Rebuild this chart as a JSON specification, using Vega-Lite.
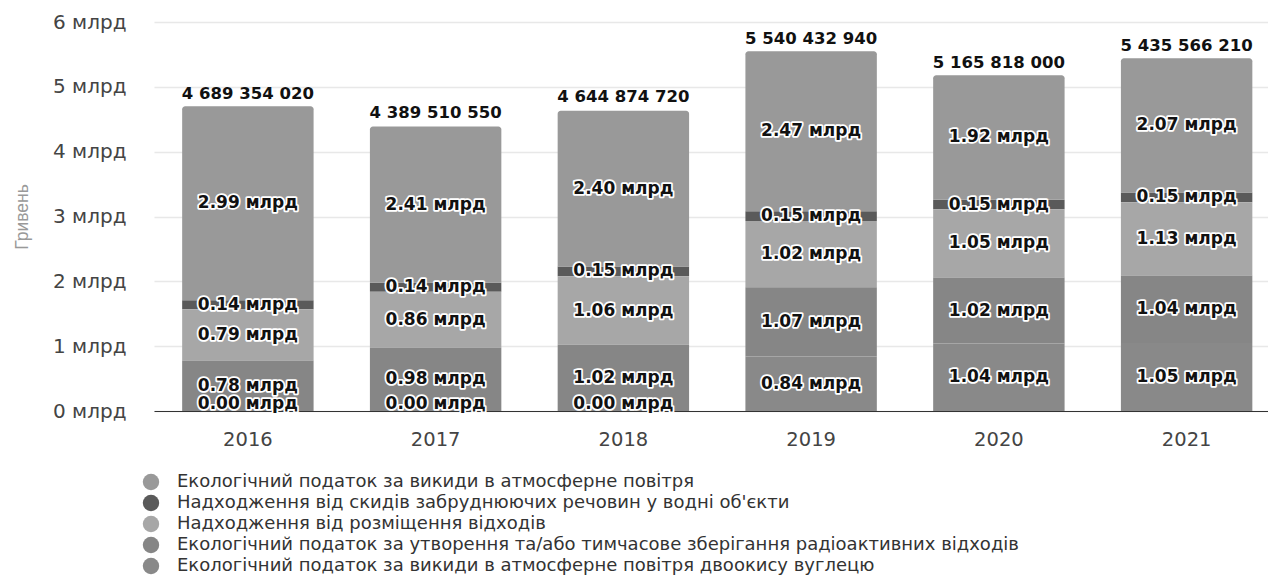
{
  "$schema": "https://vega.github.io/schema/vega-lite/v6.json",
  "width": 1114,
  "height": 389,
  "autosize": "none",
  "padding": {"left": 154, "top": 22, "right": 0, "bottom": 174},
  "background": "white",
  "config": {
    "view": {"stroke": null},
    "font": "DejaVu Sans"
  },
  "datasets": {
    "segments": [
      {"year": "2016", "series": "Екологічний податок за викиди в атмосферне повітря", "value": 2990000000},
      {"year": "2016", "series": "Надходження від скидів забруднюючих речовин у водні об'єкти", "value": 140000000},
      {"year": "2016", "series": "Надходження від розміщення відходів", "value": 790000000},
      {"year": "2016", "series": "Екологічний податок за утворення та/або тимчасове зберігання радіоактивних відходів", "value": 780000000},
      {"year": "2016", "series": "Екологічний податок за викиди в атмосферне повітря двоокису вуглецю", "value": 0},
      {"year": "2017", "series": "Екологічний податок за викиди в атмосферне повітря", "value": 2410000000},
      {"year": "2017", "series": "Надходження від скидів забруднюючих речовин у водні об'єкти", "value": 140000000},
      {"year": "2017", "series": "Надходження від розміщення відходів", "value": 860000000},
      {"year": "2017", "series": "Екологічний податок за утворення та/або тимчасове зберігання радіоактивних відходів", "value": 980000000},
      {"year": "2017", "series": "Екологічний податок за викиди в атмосферне повітря двоокису вуглецю", "value": 0},
      {"year": "2018", "series": "Екологічний податок за викиди в атмосферне повітря", "value": 2400000000},
      {"year": "2018", "series": "Надходження від скидів забруднюючих речовин у водні об'єкти", "value": 150000000},
      {"year": "2018", "series": "Надходження від розміщення відходів", "value": 1060000000},
      {"year": "2018", "series": "Екологічний податок за утворення та/або тимчасове зберігання радіоактивних відходів", "value": 1020000000},
      {"year": "2018", "series": "Екологічний податок за викиди в атмосферне повітря двоокису вуглецю", "value": 0},
      {"year": "2019", "series": "Екологічний податок за викиди в атмосферне повітря", "value": 2470000000},
      {"year": "2019", "series": "Надходження від скидів забруднюючих речовин у водні об'єкти", "value": 150000000},
      {"year": "2019", "series": "Надходження від розміщення відходів", "value": 1020000000},
      {"year": "2019", "series": "Екологічний податок за утворення та/або тимчасове зберігання радіоактивних відходів", "value": 1070000000},
      {"year": "2019", "series": "Екологічний податок за викиди в атмосферне повітря двоокису вуглецю", "value": 840000000},
      {"year": "2020", "series": "Екологічний податок за викиди в атмосферне повітря", "value": 1920000000},
      {"year": "2020", "series": "Надходження від скидів забруднюючих речовин у водні об'єкти", "value": 150000000},
      {"year": "2020", "series": "Надходження від розміщення відходів", "value": 1050000000},
      {"year": "2020", "series": "Екологічний податок за утворення та/або тимчасове зберігання радіоактивних відходів", "value": 1020000000},
      {"year": "2020", "series": "Екологічний податок за викиди в атмосферне повітря двоокису вуглецю", "value": 1040000000},
      {"year": "2021", "series": "Екологічний податок за викиди в атмосферне повітря", "value": 2070000000},
      {"year": "2021", "series": "Надходження від скидів забруднюючих речовин у водні об'єкти", "value": 150000000},
      {"year": "2021", "series": "Надходження від розміщення відходів", "value": 1130000000},
      {"year": "2021", "series": "Екологічний податок за утворення та/або тимчасове зберігання радіоактивних відходів", "value": 1040000000},
      {"year": "2021", "series": "Екологічний податок за викиди в атмосферне повітря двоокису вуглецю", "value": 1050000000}
    ],
    "totals": [
      {"year": "2016", "total": 4689354020},
      {"year": "2017", "total": 4389510550},
      {"year": "2018", "total": 4644874720},
      {"year": "2019", "total": 5540432940},
      {"year": "2020", "total": 5165818000},
      {"year": "2021", "total": 5435566210}
    ]
  },
  "encoding": {
    "x": {
      "field": "year",
      "type": "nominal",
      "scale": {"range": [0, 1126.5], "paddingInner": 0.3, "paddingOuter": 0.15},
      "axis": {
        "title": null,
        "labelAngle": 0,
        "labelFont": "DejaVu Sans",
        "labelFontSize": 19.5,
        "labelColor": "#444444",
        "labelBaseline": "middle",
        "labelPadding": 28,
        "ticks": false,
        "tickSize": 0,
        "domainColor": "#333333",
        "domainWidth": 1.2,
        "grid": false
      }
    }
  },
  "layer": [
    {
      "data": {"name": "segments"},
      "transform": [
        {"calculate": "4 - indexof([\"Екологічний податок за викиди в атмосферне повітря\", \"Надходження від скидів забруднюючих речовин у водні об'єкти\", \"Надходження від розміщення відходів\", \"Екологічний податок за утворення та/або тимчасове зберігання радіоактивних відходів\", \"Екологічний податок за викиди в атмосферне повітря двоокису вуглецю\"], datum.series)", "as": "rank"},
        {"stack": "value", "groupby": ["year"], "sort": [{"field": "rank", "order": "ascending"}], "as": ["v0", "v1"]},
        {"calculate": "max((datum.v0 + datum.v1) / 2, 110000000)", "as": "mid"},
        {"calculate": "format(datum.value / 1e9, '.2f') + ' млрд'", "as": "lbl"}
      ],
      "layer": [
        {
          "transform": [{"filter": "datum.rank < 4"}],
          "mark": {"type": "bar"},
          "encoding": {
            "y": {
              "field": "v1",
              "type": "quantitative",
              "scale": {"domain": [0, 6000000000], "nice": false},
              "axis": {
                "values": [0, 1000000000, 2000000000, 3000000000, 4000000000, 5000000000, 6000000000],
                "labelExpr": "(datum.value / 1e9) + ' млрд'",
                "labelFont": "DejaVu Sans",
                "labelFontSize": 20,
                "labelColor": "#444444",
                "labelPadding": 28,
                "ticks": false,
                "tickSize": 0,
                "domain": false,
                "grid": true,
                "gridColor": "#e8e8e8",
                "gridWidth": 1.5,
                "title": "Гривень",
                "titleFont": "Liberation Sans",
                "titleFontSize": 17.5,
                "titleFontWeight": "normal",
                "titleColor": "#999999",
                "titleX": -132,
                "titleBaseline": "middle"
              }
            },
            "y2": {"field": "v0"},
            "color": {
              "field": "series",
              "type": "nominal",
              "scale": {
                "domain": [
                  "Екологічний податок за викиди в атмосферне повітря",
                  "Надходження від скидів забруднюючих речовин у водні об'єкти",
                  "Надходження від розміщення відходів",
                  "Екологічний податок за утворення та/або тимчасове зберігання радіоактивних відходів",
                  "Екологічний податок за викиди в атмосферне повітря двоокису вуглецю"
                ],
                "range": ["#999999", "#5a5a5a", "#a7a7a7", "#868686", "#898989"]
              },
              "legend": {
                "orient": "none",
                "legendX": -12,
                "legendY": 451,
                "title": null,
                "symbolType": "circle",
                "symbolSize": 270,
                "symbolStrokeWidth": 0,
                "labelFont": "DejaVu Sans",
                "labelFontSize": 18,
                "labelColor": "#333333",
                "labelLimit": 2000,
                "labelOffset": 17,
                "rowPadding": 3,
                "padding": 0
              }
            }
          }
        },
        {
          "transform": [{"filter": "datum.rank == 4"}],
          "mark": {"type": "bar", "cornerRadiusTopLeft": 3, "cornerRadiusTopRight": 3},
          "encoding": {
            "y": {"field": "v1", "type": "quantitative"},
            "y2": {"field": "v0"},
            "color": {"field": "series", "type": "nominal"}
          }
        },
        {
          "mark": {"type": "text", "font": "DejaVu Sans", "fontWeight": "bold", "fontSize": 17, "fill": "white", "stroke": "white", "strokeWidth": 3.5, "strokeJoin": "round", "baseline": "middle", "align": "center"},
          "encoding": {
            "y": {"field": "mid", "type": "quantitative"},
            "text": {"field": "lbl"}
          }
        },
        {
          "mark": {"type": "text", "font": "DejaVu Sans", "fontWeight": "bold", "fontSize": 17, "fill": "#111111", "baseline": "middle", "align": "center"},
          "encoding": {
            "y": {"field": "mid", "type": "quantitative"},
            "text": {"field": "lbl"}
          }
        }
      ]
    },
    {
      "data": {"name": "totals"},
      "transform": [
        {"calculate": "replace(format(datum.total, ',d'), regexp(',', 'g'), ' ')", "as": "tlbl"}
      ],
      "mark": {"type": "text", "font": "DejaVu Sans", "fontWeight": "bold", "fontSize": 16.5, "fill": "#111111", "baseline": "alphabetic", "align": "center", "dy": -8},
      "encoding": {
        "y": {"field": "total", "type": "quantitative"},
        "text": {"field": "tlbl"}
      }
    }
  ]
}
